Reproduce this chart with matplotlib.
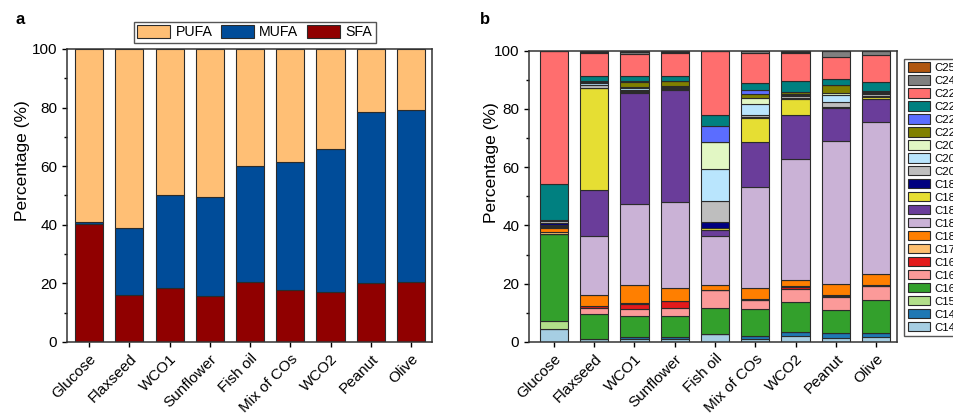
import matplotlib
matplotlib.use('Agg')
import matplotlib.pyplot as plt
import numpy as np
from matplotlib.ticker import MultipleLocator

plt.rcParams['font.family'] = ['Liberation Sans', 'DejaVu Sans']

samples = ['Glucose', 'Flaxseed', 'WCO1', 'Sunflower', 'Fish oil',
           'Mix of COs', 'WCO2', 'Peanut', 'Olive']

# panel a: saturation classes (%)
sfa = [40.2, 16.1, 18.4, 15.6, 20.3, 17.9, 17.1, 20.0, 20.5]
mufa = [0.8, 22.7, 31.7, 33.8, 39.8, 43.6, 48.9, 58.6, 58.7]
pufa = [100 - s - m for s, m in zip(sfa, mufa)]

# panel b: fatty acid profile (%), stacked bottom -> top
c14_0 = [4.5, 1.0, 1.1, 1.0, 2.7, 1.1, 1.9, 1.4, 1.6]
c14_1 = [0.0, 0.1, 0.6, 0.7, 0.0, 0.8, 1.5, 1.6, 1.3]
c15_0 = [2.6, 0.0, 0.0, 0.0, 0.0, 0.0, 0.0, 0.0, 0.0]
c16_0 = [30.0, 8.6, 7.2, 7.3, 9.0, 9.4, 10.2, 7.8, 11.6]
c16_1 = [0.0, 1.9, 2.4, 2.7, 6.0, 3.2, 4.4, 4.5, 4.6]
c16_2 = [0.0, 0.6, 1.7, 2.3, 0.0, 0.0, 0.9, 0.6, 0.0]
c17_0 = [0.7, 0.2, 0.2, 0.2, 0.2, 0.3, 0.2, 0.2, 0.3]
c18_0 = [1.3, 3.6, 6.3, 4.2, 1.8, 3.6, 2.3, 3.7, 3.9]
c18_1 = [0.4, 20.4, 27.9, 29.7, 16.8, 34.8, 41.4, 49.3, 52.2]
c18_2 = [0.3, 15.9, 38.1, 38.2, 1.8, 15.4, 15.1, 11.2, 7.9]
c18_3 = [0.3, 34.7, 0.4, 0.4, 0.8, 8.1, 5.5, 0.2, 0.7]
c18_4 = [0.6, 0.3, 0.1, 0.1, 2.1, 0.5, 0.2, 0.0, 0.2]
c20_0 = [0.7, 0.8, 0.6, 0.5, 7.1, 0.8, 0.7, 2.0, 0.7]
c20_1 = [0.3, 0.6, 0.5, 0.3, 11.1, 3.7, 0.6, 2.3, 0.5]
c20_5 = [0.3, 0.3, 0.3, 0.2, 9.1, 2.1, 0.2, 0.6, 0.3]
c22_0 = [0.0, 0.2, 1.9, 1.6, 0.0, 1.4, 0.5, 2.7, 0.2]
c22_1 = [0.0, 0.2, 0.2, 0.2, 5.6, 1.4, 0.2, 0.0, 0.0]
c22_5 = [12.3, 1.9, 1.7, 1.8, 3.8, 2.1, 3.7, 2.2, 3.1]
c22_6 = [45.7, 7.8, 7.6, 7.6, 22.1, 10.5, 9.7, 7.4, 9.2]
c24_0 = [0.0, 0.5, 0.6, 0.5, 0.0, 0.8, 0.2, 2.1, 1.4]
c25_0 = [0.0, 0.4, 0.6, 0.5, 0.0, 0.0, 0.6, 0.2, 0.3]

fa_names = ['C14:0', 'C14:1', 'C15:0', 'C16:0', 'C16:1', 'C16:2', 'C17:0',
            'C18:0', 'C18:1', 'C18:2', 'C18:3', 'C18:4', 'C20:0', 'C20:1',
            'C20:5', 'C22:0', 'C22:1', 'C22:5', 'C22:6', 'C24:0', 'C25:0']
fa_values = [c14_0, c14_1, c15_0, c16_0, c16_1, c16_2, c17_0, c18_0, c18_1,
             c18_2, c18_3, c18_4, c20_0, c20_1, c20_5, c22_0, c22_1, c22_5,
             c22_6, c24_0, c25_0]
fa_colors = ['#a6cee3', '#1f78b4', '#b2df8a', '#33a02c', '#fb9a99', '#e31a1c',
             '#fdbf6f', '#ff7f00', '#cab2d6', '#6a3d9a', '#e6de33', '#000080',
             '#bebebe', '#b9e5fd', '#e2f7c4', '#808000', '#5b6dff', '#008080',
             '#ff6e6e', '#808080', '#b0560f']

fig = plt.figure(figsize=(9.54, 4.16), dpi=100)
ax1 = fig.add_axes([0.0702, 0.178, 0.3826, 0.7043])
ax2 = fig.add_axes([0.5545, 0.178, 0.3858, 0.7006])

x = np.arange(len(samples))
edge = dict(edgecolor='#2b2b2b', linewidth=0.8)

# panel a
ax1.bar(x, sfa, 0.7, color='#900000', label='SFA', **edge)
ax1.bar(x, mufa, 0.7, bottom=sfa, color='#004c99', label='MUFA', **edge)
ax1.bar(x, pufa, 0.7, bottom=np.add(sfa, mufa), color='#ffbf75',
        label='PUFA', **edge)
ax1.set_xlim(-0.55, 8.52)
h, l = ax1.get_legend_handles_labels()
fig.legend(h[::-1], l[::-1], loc='lower center', ncol=3,
           bbox_to_anchor=(0.267, 0.897), fontsize=10.2, frameon=True,
           fancybox=False, edgecolor='#555555', framealpha=1,
           handlelength=2.3, handleheight=1.0, columnspacing=0.6,
           handletextpad=0.4, borderpad=0.25, borderaxespad=0)

# panel b
bottom = np.zeros(len(samples))
for name, vals, col in zip(fa_names, fa_values, fa_colors):
    ax2.bar(x, vals, 0.7, bottom=bottom, color=col, label=name, **edge)
    bottom += np.array(vals)
ax2.set_xlim(-0.62, 8.52)
h, l = ax2.get_legend_handles_labels()
fig.legend(h[::-1], l[::-1], loc='upper left', bbox_to_anchor=(0.948, 0.858),
           fontsize=8.2, frameon=True, fancybox=False, edgecolor='#555555',
           framealpha=1, handlelength=1.95, handleheight=0.85,
           labelspacing=0.22, handletextpad=0.35, borderpad=0.3,
           borderaxespad=0)

for ax in (ax1, ax2):
    ax.set_ylim(0, 100)
    ax.yaxis.set_major_locator(MultipleLocator(20))
    ax.yaxis.set_minor_locator(MultipleLocator(10))
    ax.set_xticks(x)
    ax.set_xticklabels(samples, rotation=45, ha='right',
                       rotation_mode='anchor', fontsize=11)
    ax.tick_params(axis='both', direction='out', labelsize=11, width=1)
    ax.tick_params(which='minor', direction='out', width=1)
    ax.tick_params(axis='x', which='minor', bottom=False)
    ax.set_ylabel('Percentage (%)', fontsize=12.5)
    for sp in ax.spines.values():
        sp.set_linewidth(1.1)
        sp.set_color('#333333')

ax1.yaxis.set_label_coords(-0.102, 0.62)
ax2.yaxis.set_label_coords(-0.082, 0.617)

fig.text(0.016, 0.952, 'a', fontsize=12, fontweight='bold', va='center')
fig.text(0.503, 0.952, 'b', fontsize=12, fontweight='bold', va='center')

fig.savefig('out.png', dpi=100)
